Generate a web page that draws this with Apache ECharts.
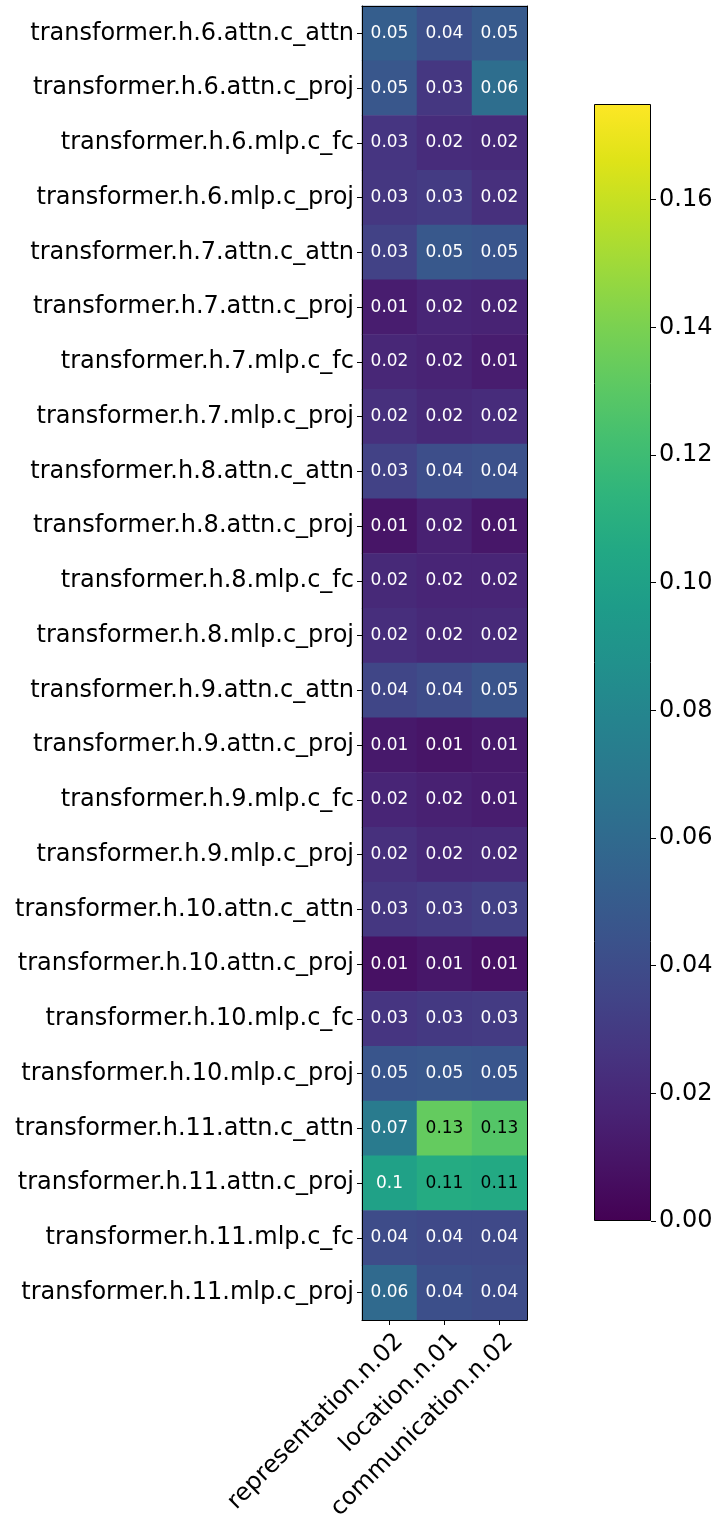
<!DOCTYPE html>
<html>
<head>
<meta charset="utf-8">
<script src="https://cdn.jsdelivr.net/npm/echarts@6/dist/echarts.min.js"></script>
<style>
  html, body { margin: 0; padding: 0; background: #fff; }
  #chart { width: 716px; height: 1516px; }
</style>
</head>
<body>
<div id="chart"></div>
<script>
// layers (rows, top to bottom)
const layers = [
  'transformer.h.6.attn.c_attn', 'transformer.h.6.attn.c_proj', 'transformer.h.6.mlp.c_fc', 'transformer.h.6.mlp.c_proj',
  'transformer.h.7.attn.c_attn', 'transformer.h.7.attn.c_proj', 'transformer.h.7.mlp.c_fc', 'transformer.h.7.mlp.c_proj',
  'transformer.h.8.attn.c_attn', 'transformer.h.8.attn.c_proj', 'transformer.h.8.mlp.c_fc', 'transformer.h.8.mlp.c_proj',
  'transformer.h.9.attn.c_attn', 'transformer.h.9.attn.c_proj', 'transformer.h.9.mlp.c_fc', 'transformer.h.9.mlp.c_proj',
  'transformer.h.10.attn.c_attn', 'transformer.h.10.attn.c_proj', 'transformer.h.10.mlp.c_fc', 'transformer.h.10.mlp.c_proj',
  'transformer.h.11.attn.c_attn', 'transformer.h.11.attn.c_proj', 'transformer.h.11.mlp.c_fc', 'transformer.h.11.mlp.c_proj'
]
// concepts (columns)
const concepts = ['representation.n.02', 'location.n.01', 'communication.n.02']

// values per column, same order as layers
const representationVals = [
  0.052, 0.047, 0.027, 0.028, 0.034, 0.014, 0.019, 0.024,
  0.034, 0.010, 0.020, 0.023, 0.036, 0.012, 0.018, 0.024,
  0.028, 0.008, 0.027, 0.046, 0.072, 0.100, 0.040, 0.060
]
const locationVals = [
  0.042, 0.028, 0.022, 0.030, 0.048, 0.018, 0.017, 0.020,
  0.041, 0.016, 0.018, 0.020, 0.040, 0.010, 0.016, 0.020,
  0.030, 0.011, 0.029, 0.047, 0.133, 0.107, 0.038, 0.042
]
const communicationVals = [
  0.049, 0.063, 0.021, 0.024, 0.046, 0.017, 0.014, 0.022,
  0.043, 0.011, 0.018, 0.021, 0.045, 0.012, 0.014, 0.021,
  0.033, 0.008, 0.030, 0.046, 0.128, 0.106, 0.038, 0.040
]

// colour scale
const colorMin = 0
const colorMax = 0.175
const colorbarTicks = [0, 0.02, 0.04, 0.06, 0.08, 0.1, 0.12, 0.14, 0.16]

const viridis = [
  '#440154', '#471365', '#482475', '#463480', '#414487', '#3b528b', '#355f8d',
  '#2f6c8e', '#2a788e', '#25848e', '#21918c', '#1e9c89', '#22a884', '#2fb47c',
  '#44bf70', '#5ec962', '#7ad151', '#9bd93c', '#bddf26', '#dfe318', '#fde725'
]

const columns = [representationVals, locationVals, communicationVals]
const cells = []
columns.forEach((vals, ci) => {
  vals.forEach((v, ri) => {
    cells.push({
      value: [ci, ri, v],
      label: { color: v > 0.105 ? '#000' : '#fff' }
    })
  })
})

const chart = echarts.init(document.getElementById('chart'), null, { renderer: 'canvas' })
const font = 'DejaVu Sans'

// colorbar gradient (top = max)
const gradStops = viridis.map((c, i) => ({ offset: 1 - i / (viridis.length - 1), color: c }))

chart.setOption({
  animation: false,
  textStyle: { fontFamily: font },
  grid: [
    { left: 362, top: 6, width: 165, height: 1314, outerBoundsMode: 'none', containLabel: false },
    { left: 594, top: 104, width: 57, height: 1117, outerBoundsMode: 'none', containLabel: false }
  ],
  xAxis: [
    {
      gridIndex: 0,
      type: 'category',
      data: concepts,
      position: 'bottom',
      z: 10,
      axisLine: { show: true, lineStyle: { color: '#000', width: 1 } },
      axisTick: { show: true, alignWithLabel: true, length: 5, lineStyle: { color: '#000' } },
      axisLabel: {
        rotate: 45, color: '#000', fontSize: 24, margin: 8, interval: 0, fontFamily: font,
        verticalAlign: 'top', padding: [2, 0, 0, 0]
      },
      splitLine: { show: false }
    },
    {
      gridIndex: 0,
      type: 'category',
      data: concepts,
      position: 'top',
      z: 10,
      axisLine: { show: true, lineStyle: { color: '#000', width: 1 } },
      axisTick: { show: false },
      axisLabel: { show: false }
    },
    {
      gridIndex: 1,
      type: 'category',
      data: [''],
      axisLine: { show: false },
      axisTick: { show: false },
      axisLabel: { show: false }
    }
  ],
  yAxis: [
    {
      gridIndex: 0,
      type: 'category',
      data: layers,
      inverse: true,
      position: 'left',
      z: 10,
      axisLine: { show: true, lineStyle: { color: '#000', width: 1 } },
      axisTick: { show: true, alignWithLabel: true, length: 5, lineStyle: { color: '#000' } },
      axisLabel: { color: '#000', fontSize: 24, margin: 8, interval: 0, fontFamily: font },
      splitLine: { show: false }
    },
    {
      gridIndex: 0,
      type: 'category',
      data: layers,
      inverse: true,
      position: 'right',
      z: 10,
      axisLine: { show: true, lineStyle: { color: '#000', width: 1 } },
      axisTick: { show: false },
      axisLabel: { show: false }
    },
    {
      gridIndex: 1,
      type: 'value',
      min: colorMin,
      max: colorMax,
      position: 'right',
      axisLine: { show: false },
      axisTick: { show: true, length: 5, lineStyle: { color: '#000' }, customValues: colorbarTicks },
      axisLabel: {
        color: '#000', fontSize: 24, margin: 8, fontFamily: font,
        customValues: colorbarTicks,
        formatter: v => v.toFixed(2)
      },
      splitLine: { show: false }
    }
  ],
  visualMap: {
    show: false,
    type: 'continuous',
    seriesIndex: 0,
    dimension: 2,
    min: colorMin,
    max: colorMax,
    inRange: { color: viridis }
  },
  series: [
    {
      type: 'heatmap',
      xAxisIndex: 0,
      yAxisIndex: 0,
      data: cells,
      label: {
        show: true,
        fontSize: 17,
        fontFamily: font,
        formatter: p => String(Math.round(p.value[2] * 100) / 100)
      },
      itemStyle: { borderWidth: 0 },
      emphasis: { disabled: true }
    },
    {
      type: 'bar',
      xAxisIndex: 2,
      yAxisIndex: 2,
      data: [colorMax],
      barWidth: '100%',
      silent: true,
      itemStyle: {
        color: new echarts.graphic.LinearGradient(0, 0, 0, 1, gradStops),
        borderColor: '#000',
        borderWidth: 1
      }
    }
  ]
})
</script>
</body>
</html>
